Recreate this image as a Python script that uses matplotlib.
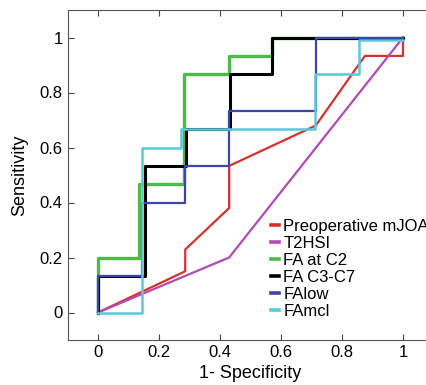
import matplotlib
matplotlib.use("Agg")
import matplotlib.pyplot as plt

plt.rcParams['font.family'] = ['Liberation Sans', 'DejaVu Sans']

# ROC curves (1 - specificity, sensitivity)
mjoa_x = [0, 0.286, 0.286, 0.43, 0.43, 0.714, 0.875, 1, 1]
mjoa_y = [0, 0.15, 0.229, 0.38, 0.533, 0.68, 0.933, 0.933, 1]

t2hsi_x = [0, 0.43, 1]
t2hsi_y = [0, 0.2, 1]

c2_x = [0, 0, 0.135, 0.135, 0.282, 0.282, 0.43, 0.43, 0.569, 0.569, 1]
c2_y = [0, 0.2, 0.2, 0.467, 0.467, 0.867, 0.867, 0.933, 0.933, 1, 1]

c3c7_x = [0, 0, 0.155, 0.155, 0.29, 0.29, 0.433, 0.433, 0.569, 0.569, 1]
c3c7_y = [0, 0.133, 0.133, 0.533, 0.533, 0.667, 0.667, 0.867, 0.867, 1, 1]

low_x = [0, 0, 0.143, 0.143, 0.285, 0.285, 0.43, 0.43, 0.714, 0.714, 1]
low_y = [0, 0.133, 0.133, 0.4, 0.4, 0.533, 0.533, 0.733, 0.733, 1, 1]

mcl_x = [0, 0.143, 0.143, 0.271, 0.271, 0.711, 0.711, 0.857, 0.857, 1]
mcl_y = [0, 0, 0.6, 0.6, 0.667, 0.667, 0.867, 0.867, 0.99, 0.99]

fig = plt.figure(figsize=(4.26, 3.85), dpi=100)
ax = fig.add_axes([67.5 / 426, 45 / 385, 366 / 426, 330 / 385])

ax.plot(mjoa_x, mjoa_y, color='#d8302c', lw=1.6, label='Preoperative mJOA')
ax.plot(t2hsi_x, t2hsi_y, color='#b548b8', lw=1.6, label='T2HSI')
ax.plot(c2_x, c2_y, color='#4cbb47', lw=2.4, label='FA at C2')
ax.plot(c3c7_x, c3c7_y, color='black', lw=2.2, label='FA C3-C7')
ax.plot(low_x, low_y, color='#3e45a8', lw=1.6, label='FAlow')
ax.plot(mcl_x, mcl_y, color='#5cc8dc', lw=1.8, label='FAmcl')

ax.set_xlim(-0.1, 1.1)
ax.set_ylim(-0.1, 1.1)
ticks = [0, 0.2, 0.4, 0.6, 0.8, 1]
labels = ['0', '0.2', '0.4', '0.6', '0.8', '1']
ax.set_xticks(ticks)
ax.set_xticklabels(labels)
ax.set_yticks(ticks)
ax.set_yticklabels(labels)
ax.tick_params(direction='in', top=True, right=True, labelsize=12, length=4, colors='#444444', labelcolor='black')
for s in ax.spines.values():
    s.set_color('#555555')

ax.set_xlabel('1- Specificity', fontsize=13, labelpad=4)
ax.set_ylabel('Sensitivity', fontsize=13, labelpad=8)

leg = ax.legend(loc='upper left', bbox_to_anchor=(0.556, 0.368), frameon=False,
                fontsize=12, handlelength=0.5, handletextpad=0.25, labelspacing=0.12,
                borderpad=0, borderaxespad=0)
for h in leg.get_lines():
    h.set_linewidth(2.6)

fig.savefig('out.png', dpi=100)
